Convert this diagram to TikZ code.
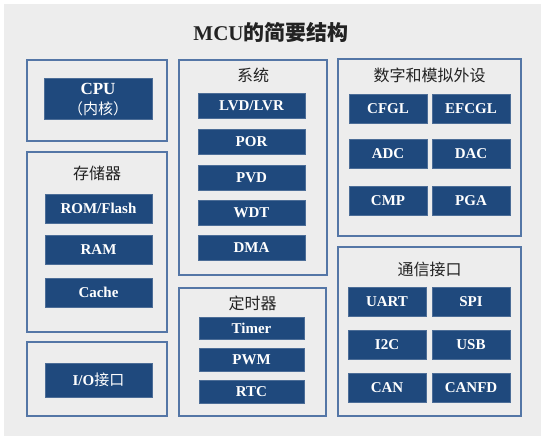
\documentclass[tikz,border=0pt]{standalone}
\usepackage{fontspec}
\setmainfont{Liberation Serif}
\newfontfamily\cjk{Noto Sans CJK SC}
\definecolor{bggray}{RGB}{237,237,237}
\definecolor{grpblue}{RGB}{84,118,166}
\definecolor{blkblue}{RGB}{31,73,125}
\definecolor{txtdark}{RGB}{34,34,34}
\tikzset{
  grp/.style={draw=grpblue, line width=1.6pt, fill=bggray, inner sep=0pt},
  blk/.style={fill=blkblue, draw=blkblue!80!white, line width=0.4pt, text=white, inner sep=0pt,
    font=\bfseries\fontsize{15}{17}\selectfont, align=center},
  grptitle/.style={text=txtdark, inner sep=0pt, font=\cjk\fontsize{16}{18}\selectfont},
}
\begin{document}
\begin{tikzpicture}[x=1pt,y=-1pt]
\useasboundingbox (0,0) rectangle (551,442);
\fill[bggray] (4,4) rectangle (541,436);
\node[text=txtdark, inner sep=0pt, font=\bfseries\fontsize{21}{24}\selectfont] (title) at (271,32) {MCU{\cjk\bfseries 的简要结构}};

% left column
\node[grp, minimum width=140pt, minimum height=81pt] (cpuG) at (97,100.5) {};
\node[blk, minimum width=108pt, minimum height=41pt] (cpu) at (98,98.5) {};
\node[text=white, inner sep=0pt, font=\bfseries\fontsize{17}{20}\selectfont] (cpuA) at (98,89) {CPU};
\node[text=white, inner sep=0pt, font=\cjk\fontsize{15}{17}\selectfont] (cpuB) at (98,109) {（内核）};

\node[grp, minimum width=140pt, minimum height=180pt] (memG) at (97,242) {};
\node[grptitle] (memT) at (97,173) {存储器};
\node[blk, minimum width=107pt, minimum height=29pt] (rom) at (98.5,208.5) {ROM/Flash};
\node[blk, minimum width=107pt, minimum height=29pt] (ram) at (98.5,249.5) {RAM};
\node[blk, minimum width=107pt, minimum height=29pt] (cache) at (98.5,292.5) {Cache};

\node[grp, minimum width=140pt, minimum height=74pt] (ioG) at (97,379) {};
\node[blk, minimum width=107pt, minimum height=34pt] (io) at (98.5,380) {I/O{\cjk\mdseries 接口}};

% middle column
\node[grp, minimum width=148pt, minimum height=215pt] (sysG) at (253,167.5) {};
\node[grptitle] (sysT) at (253,75) {系统};
\node[blk, minimum width=107pt, minimum height=25pt] (lvd) at (251.5,105.5) {LVD/LVR};
\node[blk, minimum width=107pt, minimum height=25pt] (por) at (251.5,142) {POR};
\node[blk, minimum width=107pt, minimum height=25pt] (pvd) at (251.5,177.5) {PVD};
\node[blk, minimum width=107pt, minimum height=25pt] (wdt) at (251.5,213) {WDT};
\node[blk, minimum width=107pt, minimum height=25pt] (dma) at (251.5,247.5) {DMA};

\node[grp, minimum width=147pt, minimum height=128pt] (timG) at (252.5,352) {};
\node[grptitle] (timT) at (252.5,303) {定时器};
\node[blk, minimum width=105pt, minimum height=22pt] (timer) at (251.5,328.5) {Timer};
\node[blk, minimum width=105pt, minimum height=23pt] (pwm) at (251.5,359.5) {PWM};
\node[blk, minimum width=105pt, minimum height=23pt] (rtc) at (251.5,391.5) {RTC};

% right column
\node[grp, minimum width=183pt, minimum height=177pt] (perG) at (429.5,147.5) {};
\node[grptitle] (perT) at (429.5,75) {数字和模拟外设};
\node[blk, minimum width=78pt, minimum height=29pt] (cfgl) at (388,108.5) {CFGL};
\node[blk, minimum width=78pt, minimum height=29pt] (efcgl) at (471,108.5) {EFCGL};
\node[blk, minimum width=78pt, minimum height=29pt] (adc) at (388,153.5) {ADC};
\node[blk, minimum width=78pt, minimum height=29pt] (dac) at (471,153.5) {DAC};
\node[blk, minimum width=78pt, minimum height=29pt] (cmp) at (388,200.5) {CMP};
\node[blk, minimum width=78pt, minimum height=29pt] (pga) at (471,200.5) {PGA};

\node[grp, minimum width=183pt, minimum height=169pt] (comG) at (429.5,331.5) {};
\node[grptitle] (comT) at (429.5,269) {通信接口};
\node[blk, minimum width=78pt, minimum height=29pt] (uart) at (387,301.5) {UART};
\node[blk, minimum width=78pt, minimum height=29pt] (spi) at (471,301.5) {SPI};
\node[blk, minimum width=78pt, minimum height=29pt] (i2c) at (387,345) {I2C};
\node[blk, minimum width=78pt, minimum height=29pt] (usb) at (471,345) {USB};
\node[blk, minimum width=78pt, minimum height=29pt] (can) at (387,388) {CAN};
\node[blk, minimum width=78pt, minimum height=29pt] (canfd) at (471,388) {CANFD};
\end{tikzpicture}
\end{document}
